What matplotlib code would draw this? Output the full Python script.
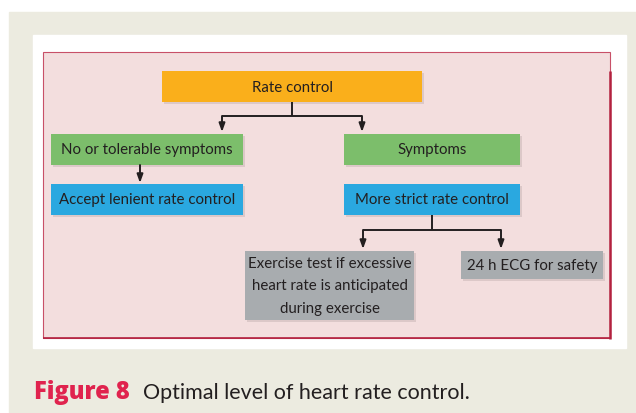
import matplotlib.pyplot as plt
from matplotlib.patches import Rectangle

plt.rcParams['font.family'] = ['Lato', 'DejaVu Sans']

# flowchart content
top_label = "Rate control"
branch_labels = ["No or tolerable symptoms", "Symptoms"]
action_labels = ["Accept lenient rate control", "More strict rate control"]
followup_labels = ["Exercise test if excessive\nheart rate is anticipated\nduring exercise",
                   "24 h ECG for safety"]
caption_bold = "Figure 8"
caption_text = "Optimal level of heart rate control."

# layout in pixels (x0, y0, x1, y1), y grows downward
top_box = (162, 72, 422, 103)
branch_boxes = [(51, 135, 243, 166), (344, 135, 520, 166)]
action_boxes = [(51, 185, 243, 216), (344, 185, 520, 216)]
followup_boxes = [(245, 252, 414, 321), (461, 252, 603, 280)]

ORANGE = '#FAAF1B'
GREEN = '#7CBE6B'
BLUE = '#2AA8E0'
GREY = '#A8ACAF'
INK = '#231F20'
CRIMSON = '#B3213F'

fig = plt.figure(figsize=(6.36, 4.14), dpi=100)
ax = fig.add_axes([0, 0, 1, 1])
ax.set_xlim(0, 636)
ax.set_ylim(414, 0)
ax.axis('off')

# page background layers
ax.add_patch(Rectangle((9, 13), 627, 401, color='#ECEBE0', zorder=0))
ax.add_patch(Rectangle((33, 36), 593, 313, color='white', zorder=1))
ax.add_patch(Rectangle((43, 53), 567, 286, facecolor='#F3DEDE',
                       edgecolor='#C85068', lw=0.8, zorder=2))
# heavier right and bottom border
ax.plot([610, 610], [72, 339.5], color=CRIMSON, lw=1.8, zorder=3, solid_capstyle='butt')
ax.plot([43, 611], [339, 339], color=CRIMSON, lw=1.2, zorder=3, solid_capstyle='butt')


def box(rect, color, label, size=10.8):
    x0, y0, x1, y1 = rect
    ax.add_patch(Rectangle((x0 + 2, y0 + 2), x1 - x0, y1 - y0,
                           color='#9A8A8A', alpha=0.25, lw=0, zorder=4))
    ax.add_patch(Rectangle((x0, y0), x1 - x0, y1 - y0, color=color, lw=0, zorder=5))
    ax.text((x0 + x1) / 2, (y0 + y1) / 2, label, ha='center', va='center',
            fontsize=size, color=INK, zorder=6, linespacing=1.8)


def arrow(x, y0, y1):
    ax.annotate('', xy=(x, y1), xytext=(x, y0),
                arrowprops=dict(arrowstyle='-|>,head_length=0.5,head_width=0.18',
                                color=INK, lw=1.4, shrinkA=0, shrinkB=0), zorder=6)


def line(xs, ys):
    ax.plot(xs, ys, color=INK, lw=1.4, zorder=6, solid_capstyle='butt')


box(top_box, ORANGE, top_label)
for r, t in zip(branch_boxes, branch_labels):
    box(r, GREEN, t)
for r, t in zip(action_boxes, action_labels):
    box(r, BLUE, t)
for r, t in zip(followup_boxes, followup_labels):
    box(r, GREY, t)

# connectors
line([292, 292], [103, 117])
line([222, 362], [117, 117])
arrow(222, 117, 133)
arrow(362, 117, 133)
arrow(140, 166, 184)
line([432, 432], [216, 231])
line([363, 501], [231, 231])
arrow(363, 231, 250)
arrow(501, 231, 250)

# caption
ax.text(34, 399, caption_bold, fontsize=17, fontweight='heavy', color='#E0234E',
        va='baseline', ha='left', family=['Open Sans', 'DejaVu Sans'])
ax.text(143, 399, caption_text, fontsize=15.5, color=INK, va='baseline', ha='left')

fig.savefig('out.png', dpi=100)
